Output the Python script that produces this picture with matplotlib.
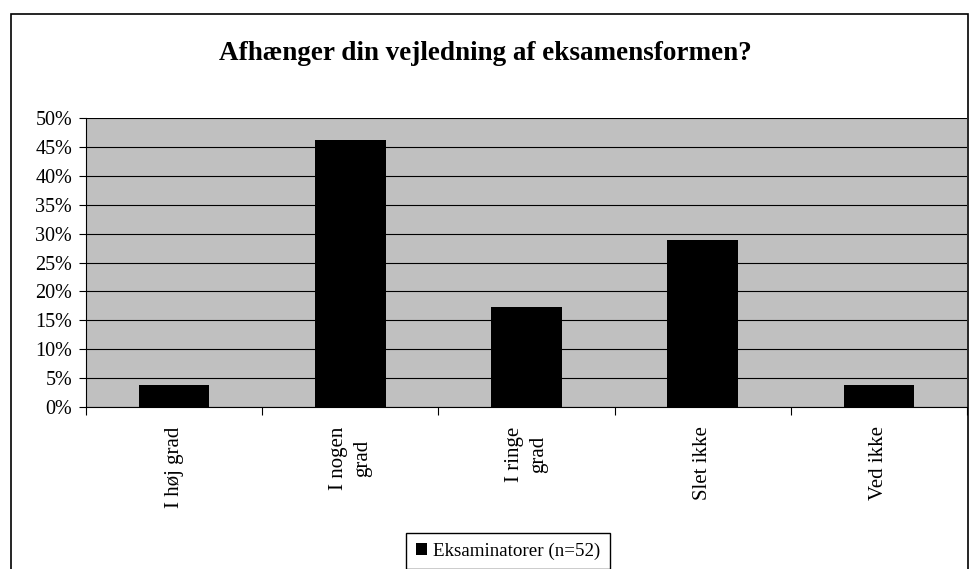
import numpy as np
import matplotlib.pyplot as plt
from matplotlib.patches import Rectangle
from matplotlib.ticker import FuncFormatter

plt.rcParams['font.family'] = ['Liberation Serif', 'DejaVu Serif']

# data
categories = ['I høj grad', 'I nogen\ngrad', 'I ringe\ngrad', 'Slet ikke', 'Ved ikke']
values = [3.85, 46.15, 17.31, 28.85, 3.85]
series_name = 'Eksaminatorer (n=52)'
yticks = [0, 5, 10, 15, 20, 25, 30, 35, 40, 45, 50]

W, H = 970, 569
fig = plt.figure(figsize=(W / 100, H / 100), dpi=100)

# outer chart frame
fig.patches.append(Rectangle((11 / W, -0.05), (968 - 11) / W, (H - 14) / H + 0.05,
                             transform=fig.transFigure, fill=False,
                             edgecolor='black', linewidth=1.2))

ax = fig.add_axes([86 / W, (H - 407) / H, (967 - 86) / W, (407 - 118) / H])
ax.set_facecolor('#c0c0c0')

x = np.arange(len(categories))
ax.bar(x, values, width=0.4, color='black', label=series_name, zorder=3)

ax.set_xlim(-0.5, len(categories) - 0.5)
ax.set_ylim(0, 50)
ax.set_yticks(yticks)
ax.yaxis.set_major_formatter(FuncFormatter(lambda v, p: f'{int(v)}%'))
ax.yaxis.grid(True, color='black', linewidth=0.8, zorder=1)
ax.set_axisbelow(True)

# ticks between categories, labels centred on bars
ax.set_xticks(np.arange(len(categories) + 1) - 0.5)
ax.set_xticklabels([])
ax.set_xticks(x, minor=True)
ax.set_xticklabels(categories, minor=True, rotation=90, fontsize=15,
                   va='top', ha='center', multialignment='center',
                   linespacing=1.35)
ax.tick_params(axis='x', which='minor', length=0, pad=14)
ax.tick_params(axis='x', which='major', length=6, direction='out', color='black')
ax.tick_params(axis='y', length=5, direction='out', labelsize=14.5, pad=5)

for s in ['top', 'right']:
    ax.spines[s].set_visible(False)
ax.spines['left'].set_color('black')
ax.spines['bottom'].set_color('black')

fig.text(0.5, (H - 53) / H, 'Afhænger din vejledning af eksamensformen?',
         ha='center', va='center', fontsize=19.5, fontweight='bold')

fig.legend(loc='center', bbox_to_anchor=(508 / W, (H - 551) / H), fontsize=13.7,
           frameon=True, fancybox=False, edgecolor='black', framealpha=1,
           handlelength=0.6, handleheight=0.6, handletextpad=0.3,
           borderpad=0.5)

fig.savefig('out.png', dpi=100)
